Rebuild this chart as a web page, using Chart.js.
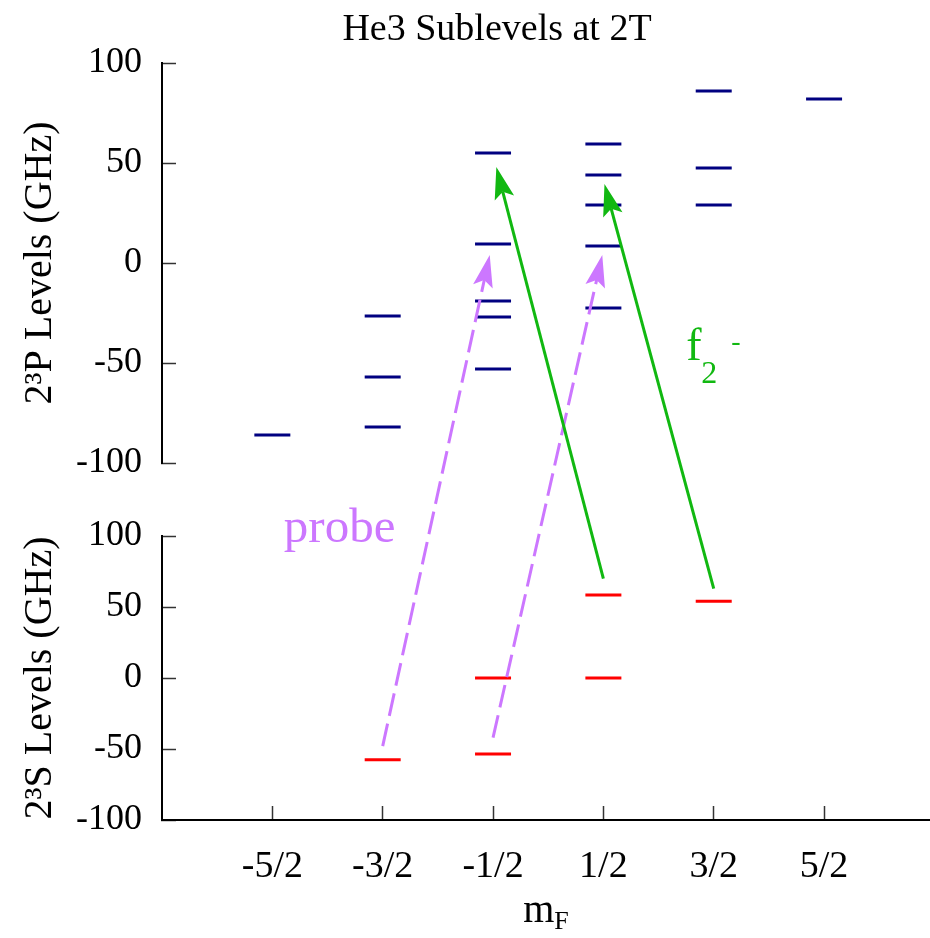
<!DOCTYPE html>
<html>
<head>
<meta charset="utf-8">
<title>He3 Sublevels at 2T</title>
<script src="https://cdn.jsdelivr.net/npm/chart.js@4.4.1/dist/chart.umd.min.js"></script>
<style>
  html, body { margin: 0; padding: 0; background: #fff; overflow: hidden; }
</style>
</head>
<body>
<canvas id="levels" width="930" height="938"></canvas>
<script>
// m_F sublevels and their tick labels
const mF = [-2.5, -1.5, -0.5, 0.5, 1.5, 2.5];
const mFLabels = ['-5/2', '-3/2', '-1/2', '1/2', '3/2', '5/2'];
const yTicks = [-100, -50, 0, 50, 100];

// 2^3P level shifts (GHz), one list per m_F
const pLevels = [
  [-86],
  [-26.5, -57, -82],
  [55, 9.5, -19, -27, -53],
  [59.5, 44, 29, 8.5, -22.5],
  [86, 47.5, 29],
  [82]
];

// 2^3S level shifts (GHz), one list per m_F
const sLevels = [
  [],
  [-57.5],
  [0, -53.5],
  [58.5, 0],
  [54],
  []
];

// transitions: start on the 2^3S panel, end on the 2^3P panel, as [m_F, GHz]
const probeFrom = [[-1.5, -48], [-0.5, -42]];
const probeTo = [[-0.53, 4], [0.49, 4]];
const pumpFrom = [[0.5, 70], [1.5, 63]];
const pumpTo = [[-0.47, 48], [0.51, 39.5]];

const SERIF = '"Liberation Serif", "Times New Roman", serif';
const PROBE_COLOR = '#cc77ff';
const PUMP_COLOR = '#11b811';

const toPoints = levels =>
  levels.flatMap((vals, i) => vals.map(v => ({ x: mF[i], y: v })));

function levelDataset(label, levels, axis, color) {
  return {
    label,
    data: toPoints(levels),
    yAxisID: axis,
    showLine: false,
    pointStyle: 'line',
    pointRadius: 18,
    pointHoverRadius: 18,
    pointBorderWidth: 3,
    pointHoverBorderWidth: 3,
    pointBorderColor: color,
    pointBackgroundColor: color
  };
}

function drawArrow(ctx, x0, y0, x1, y1, color, dash) {
  const ang = Math.atan2(y1 - y0, x1 - x0);
  const cos = Math.cos(ang), sin = Math.sin(ang);
  const headLen = 32, headHalf = 10;
  const bx = x1 - headLen * cos, by = y1 - headLen * sin;
  const nx = x1 - headLen * 0.8 * cos, ny = y1 - headLen * 0.8 * sin;
  ctx.save();
  ctx.strokeStyle = color;
  ctx.lineWidth = 3;
  ctx.setLineDash(dash);
  ctx.beginPath();
  ctx.moveTo(x0, y0);
  ctx.lineTo(nx, ny);
  ctx.stroke();
  ctx.setLineDash([]);
  ctx.fillStyle = color;
  ctx.beginPath();
  ctx.moveTo(x1, y1);
  ctx.lineTo(bx - headHalf * sin, by + headHalf * cos);
  ctx.lineTo(nx, ny);
  ctx.lineTo(bx + headHalf * sin, by - headHalf * cos);
  ctx.closePath();
  ctx.fill();
  ctx.restore();
}

// arrows between the panels plus the free text labels
const annotations = {
  id: 'annotations',
  afterDatasetsDraw(chart) {
    const { ctx, scales: { x, yP, yS }, chartArea } = chart;

    probeFrom.forEach((from, i) => {
      const to = probeTo[i];
      drawArrow(ctx, x.getPixelForValue(from[0]), yS.getPixelForValue(from[1]),
        x.getPixelForValue(to[0]), yP.getPixelForValue(to[1]), PROBE_COLOR, [23, 8]);
    });
    pumpFrom.forEach((from, i) => {
      const to = pumpTo[i];
      drawArrow(ctx, x.getPixelForValue(from[0]), yS.getPixelForValue(from[1]),
        x.getPixelForValue(to[0]), yP.getPixelForValue(to[1]), PUMP_COLOR, []);
    });

    ctx.save();
    ctx.textBaseline = 'alphabetic';

    // probe label
    ctx.fillStyle = PROBE_COLOR;
    ctx.font = '49px ' + SERIF;
    ctx.textAlign = 'center';
    ctx.fillText('probe', x.getPixelForValue(-1.89), yS.getPixelForValue(96));

    // f2- label
    ctx.fillStyle = PUMP_COLOR;
    ctx.textAlign = 'left';
    const fx = x.getPixelForValue(1.25), fy = yP.getPixelForValue(-48.5);
    ctx.font = '46px ' + SERIF;
    ctx.fillText('f', fx, fy);
    ctx.font = '32px ' + SERIF;
    ctx.fillText('2', fx + 15, fy + 23);
    ctx.font = '28px ' + SERIF;
    ctx.fillText('-', fx + 45, fy - 10);

    // title
    ctx.fillStyle = '#000';
    ctx.textAlign = 'center';
    ctx.font = '38px ' + SERIF;
    ctx.fillText('He3 Sublevels at 2T', 497, 40);

    // x axis title m_F
    const cx = (chartArea.left + chartArea.right) / 2;
    ctx.textAlign = 'left';
    ctx.font = '40px ' + SERIF;
    const mw = ctx.measureText('m').width;
    ctx.font = '26px ' + SERIF;
    const fw = ctx.measureText('F').width;
    const sx = cx - (mw + fw) / 2;
    ctx.font = '40px ' + SERIF;
    ctx.fillText('m', sx, 922);
    ctx.font = '26px ' + SERIF;
    ctx.fillText('F', sx + mw, 929);
    ctx.restore();
  }
};

function yPanel(titleText, weight, stackWeight) {
  return {
    type: 'linear',
    position: 'left',
    stack: 'panels',
    stackWeight,
    weight,
    min: -100,
    max: 100,
    afterBuildTicks: s => { s.ticks = yTicks.map(v => ({ value: v })); },
    afterFit: s => { s.width = 162; },
    ticks: {
      color: '#000',
      padding: 34,
      autoSkip: false,
      font: { family: SERIF, size: 36 }
    },
    grid: {
      drawOnChartArea: false,
      tickLength: -14,
      tickWidth: 1.5,
      tickColor: '#333'
    },
    border: { color: '#000', width: 2 },
    title: {
      display: true,
      text: titleText,
      color: '#000',
      font: { family: SERIF, size: 40 },
      padding: { top: 16, bottom: 0 }
    }
  };
}

new Chart(document.getElementById('levels'), {
  type: 'scatter',
  data: {
    datasets: [
      levelDataset('2³P', pLevels, 'yP', '#000080'),
      levelDataset('2³S', sLevels, 'yS', '#ff0000')
    ]
  },
  options: {
    responsive: false,
    animation: false,
    events: [],
    layout: {
      autoPadding: false,
      padding: { top: 63, right: 0, bottom: 0, left: 0 }
    },
    plugins: {
      legend: { display: false },
      tooltip: { enabled: false }
    },
    scales: {
      x: {
        type: 'linear',
        position: 'bottom',
        min: -3.5,
        max: 3.46,
        afterBuildTicks: s => { s.ticks = mF.map(v => ({ value: v })); },
        afterFit: s => {
          s.height = 118;
          s.paddingLeft = 0;
          s.paddingRight = 0;
        },
        ticks: {
          color: '#000',
          padding: 38,
          maxRotation: 0,
          autoSkip: false,
          font: { family: SERIF, size: 38 },
          callback: v => mFLabels[mF.indexOf(v)]
        },
        grid: {
          drawOnChartArea: false,
          tickLength: -14,
          tickWidth: 1.5,
          tickColor: '#333'
        },
        border: { color: '#000', width: 2 }
      },
      yP: yPanel('2³P Levels (GHz)', 3, 400),
      gap: {
        type: 'linear',
        position: 'left',
        stack: 'panels',
        stackWeight: 73,
        weight: 2,
        display: false
      },
      yS: yPanel('2³S Levels (GHz)', 1, 284)
    }
  },
  plugins: [annotations]
});
</script>
</body>
</html>
